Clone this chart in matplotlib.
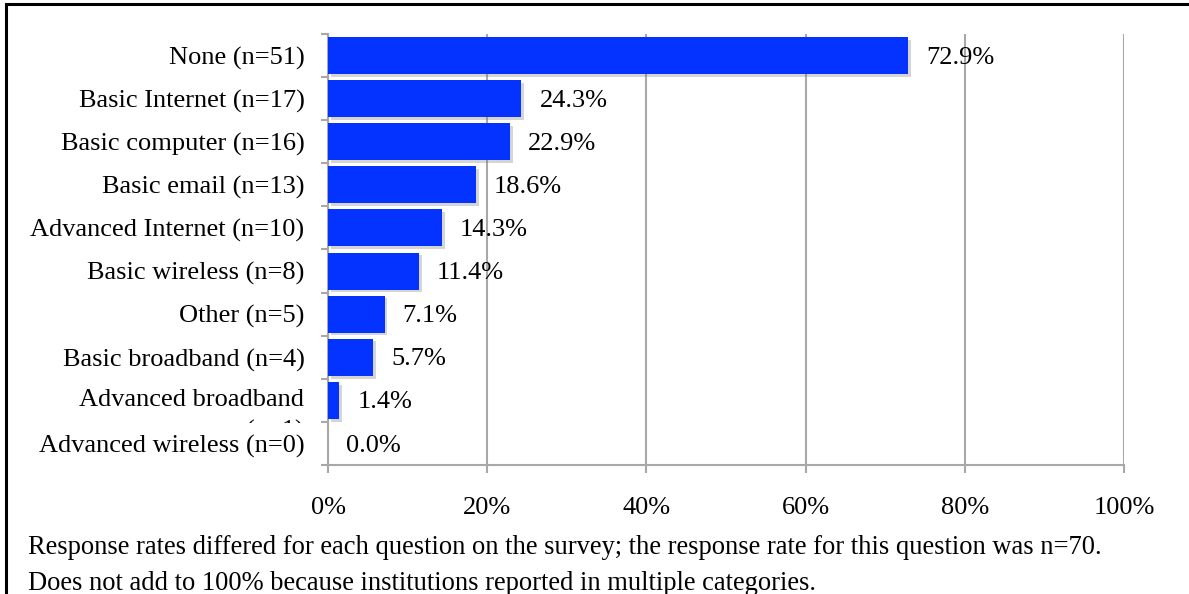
import matplotlib
matplotlib.use("Agg")
import matplotlib.pyplot as plt
import matplotlib.patheffects as pe
from matplotlib.patches import Rectangle
from matplotlib.transforms import Bbox, TransformedBbox
import numpy as np

categories = ["None (n=51)", "Basic Internet (n=17)", "Basic computer (n=16)",
              "Basic email (n=13)", "Advanced Internet (n=10)", "Basic wireless (n=8)",
              "Other (n=5)", "Basic broadband (n=4)", "Advanced broadband (n=1)",
              "Advanced wireless (n=0)"]
percent = [72.9, 24.3, 22.9, 18.6, 14.3, 11.4, 7.1, 5.7, 1.4, 0.0]
xticks = [0, 20, 40, 60, 80, 100]
note = ("Response rates differed for each question on the survey; the response rate for this question was n=70.\n"
        "Does not add to 100% because institutions reported in multiple categories.")

plt.rcParams['font.family'] = ['Liberation Serif', 'DejaVu Serif']
W, H = 1189, 594
fig = plt.figure(figsize=(W / 100, H / 100), dpi=100)
ax = fig.add_axes([328 / W, 129 / H, 796 / W, 431 / H])

grey = '#A8A8A8'
y = np.arange(len(categories))
ax.barh(y, percent, height=0.86, color='#0433FF', zorder=3,
        path_effects=[pe.SimplePatchShadow(offset=(2, -2), shadow_rgbFace='#777777', alpha=0.3),
                      pe.Normal()])
for yi, v in zip(y, percent):
    ax.annotate(f"{v:.1f}%", (v, yi), xytext=(13, -1.5), textcoords='offset points',
                va='center', ha='left', fontsize=19, zorder=4)

ax.set_xlim(0, 100)
ax.set_ylim(len(categories) - 0.5, -0.5)
ax.set_xticks(xticks)
ax.set_xticklabels([f"{t}%" for t in xticks])
ax.set_yticks(y)
# the long label gets wrapped (and cut off) below, so leave its tick empty
long_idx = 8
ax.set_yticklabels(["" if i == long_idx else c for i, c in enumerate(categories)])
ax.set_yticks(np.arange(len(categories) + 1) - 0.5, minor=True)

ax.grid(axis='x', color=grey, linewidth=1.5, zorder=0)
ax.tick_params(axis='x', length=6, width=1.5, color=grey, pad=17, labelsize=19)
ax.tick_params(axis='y', which='major', length=0, pad=17, labelsize=19)
ax.tick_params(axis='y', which='minor', length=5, width=1.5, color=grey)
for s in ['top', 'right']:
    ax.spines[s].set_visible(False)
for s in ['left', 'bottom']:
    ax.spines[s].set_color(grey)
    ax.spines[s].set_linewidth(1.5)

wrapped = categories[long_idx].replace(" (", "\n(")
lab = ax.annotate(wrapped, (0, long_idx), xycoords=('axes fraction', 'data'),
                  xytext=(-17, -27), textcoords='offset points',
                  ha='right', va='baseline', fontsize=19, linespacing=1.5)
lab.set_clip_box(TransformedBbox(Bbox([[0, 171 / H], [1, 1]]), fig.transFigure))
lab.set_clip_on(True)

fig.text(28 / W, 1 - 590 / H, note, fontsize=19.1, va='baseline', ha='left', linespacing=1.6)

# page frame
fig.patches.append(Rectangle((6 / W, -0.1), 1.2, 1.1 - 4 / H, transform=fig.transFigure,
                             fill=False, edgecolor='black', linewidth=2.2))

fig.savefig("out.png", dpi=100)
